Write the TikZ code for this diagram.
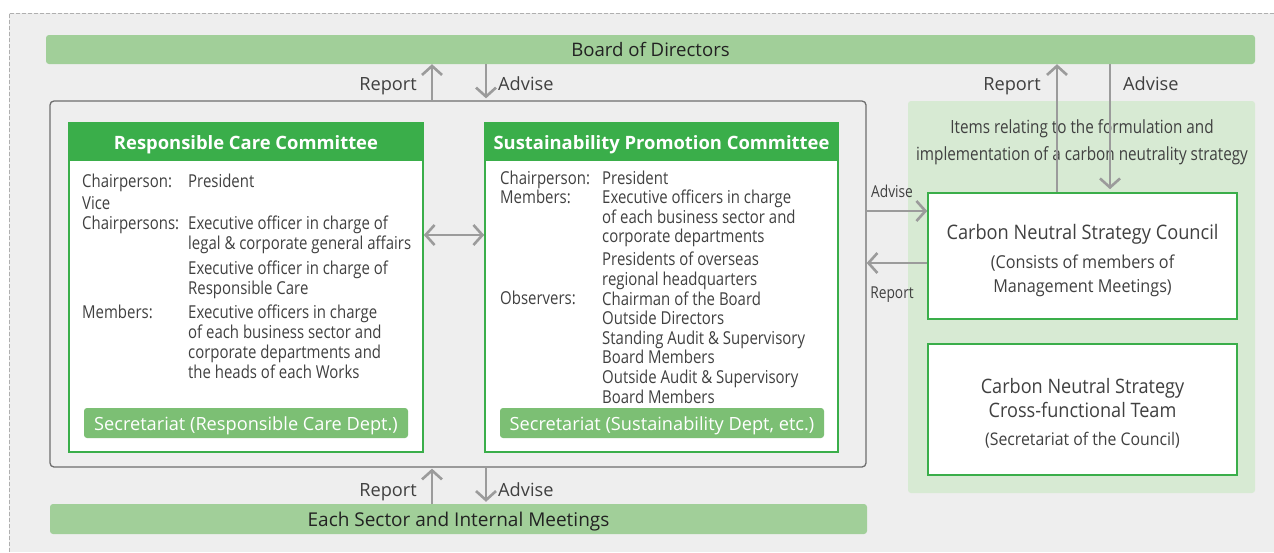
\documentclass[tikz,border=0pt]{standalone}
\usepackage{fontspec}
\setmainfont{Open Sans}[FakeStretch=0.84]
\newfontfamily\widef{Open Sans}
\newfontfamily\midf{Open Sans}[FakeStretch=0.91]
\usetikzlibrary{arrows.meta}
\definecolor{bgG}{HTML}{EEEEEE}
\definecolor{boardG}{HTML}{A1CF99}
\definecolor{hdrG}{HTML}{3AAE4A}
\definecolor{secG}{HTML}{7CBF74}
\definecolor{panelG}{HTML}{D7EAD3}
\definecolor{arrG}{HTML}{9B9B9B}
\definecolor{txtC}{HTML}{404040}
\definecolor{darkC}{HTML}{222222}
\definecolor{boxC}{HTML}{6E6E6E}
\tikzset{
  cen/.style={text height=16pt, text depth=2pt},
  bar/.style={fill=boardG, rounded corners=3pt, inner sep=0, text=darkC, cen},
  gbox/.style={draw=hdrG, line width=1.6pt, fill=white, inner sep=0},
  hdr/.style={fill=hdrG, inner sep=0, text=white, cen, font=\widef\bfseries\fontsize{18.4}{22}\selectfont},
  sec/.style={fill=secG, rounded corners=3pt, inner sep=0, text=white, cen, font=\widef\fontsize{18.2}{22}\selectfont},
  body/.style={inner sep=0, anchor=base west, align=left, text=txtC, font=\fontsize{17.8}{20}\selectfont},
  bodyr/.style={body, font=\fontsize{17.8}{19.6}\selectfont},
  lbl/.style={inner sep=0, text=txtC, font=\widef\fontsize{18.2}{22}\selectfont},
  slbl/.style={inner sep=0, text=txtC, font=\fontsize{16.4}{18}\selectfont},
  ctr/.style={inner sep=0, align=center, text=txtC},
  arr/.style={draw=arrG, line width=2.6pt, -{Straight Barb[length=9pt,width=20pt]}},
  arrtwo/.style={draw=arrG, line width=2.6pt, {Straight Barb[length=9pt,width=20pt]}-{Straight Barb[length=9pt,width=20pt]}},
}
\begin{document}
\begin{tikzpicture}[x=1pt,y=-1pt]
\useasboundingbox (0,0) rectangle (1274,552);
% background
\fill[bgG] (9,13) rectangle (1274,552);
\draw[arrG!80, line width=0.8pt, dash pattern=on 4pt off 2pt] (1274,13) -- (9,13) -- (9,552);

% top bar and bottom bar
\node[bar, minimum width=1209pt, minimum height=29pt, font=\widef\fontsize{18.6}{22}\selectfont] (board) at (650.5,49.5) {Board of Directors};
\node[bar, minimum width=817pt, minimum height=30pt, font=\widef\fontsize{19}{22}\selectfont] (sector) at (458.5,519) {Each Sector and Internal Meetings};

% big grey box
\node[draw=boxC, line width=1.3pt, rounded corners=4pt, minimum width=816pt, minimum height=366pt, inner sep=0] (bigbox) at (458,284) {};

% right panel
\node[fill=panelG, rounded corners=3pt, minimum width=347pt, minimum height=392pt, inner sep=0] (panel) at (1081.5,297) {};

% committees
\node[gbox, minimum width=354pt, minimum height=329pt] (rc) at (246,287.5) {};
\node[hdr, minimum width=354pt, minimum height=38pt] (rchead) at (246,142) {Responsible Care Committee};
\node[gbox, minimum width=353pt, minimum height=329pt] (sp) at (661.5,287.5) {};
\node[hdr, minimum width=353pt, minimum height=38pt] (sphead) at (661.5,142) {Sustainability Promotion Committee};

% RC text (anchor = baseline of last line)
\node[body] (rcl1) at (82,187) {Chairperson:};
\node[body] (rcl2) at (82,229.5) {Vice\\Chairpersons:};
\node[body] (rcl3) at (82,318) {Members:};
\node[body] (rcc1) at (188,187) {President};
\node[body] (rcc2) at (188,249.5) {Executive officer in charge of\\legal \& corporate general affairs};
\node[body] (rcc3) at (188,294) {Executive officer in charge of\\Responsible Care};
\node[body] (rcc4) at (188,378) {Executive officers in charge\\of each business sector and\\corporate departments and\\the heads of each Works};

% SP text (anchor = baseline of last line)
\node[bodyr] (spl1) at (500,203.6) {Chairperson:\\Members:};
\node[bodyr] (spl2) at (500,304) {Observers:};
\node[bodyr] (spc1) at (602,242.8) {President\\Executive officers in charge\\of each business sector and\\corporate departments};
\node[bodyr] (spc2) at (602,403) {Presidents of overseas\\regional headquarters\\Chairman of the Board\\Outside Directors\\Standing Audit \& Supervisory\\Board Members\\Outside Audit \& Supervisory\\Board Members};

% secretariats
\node[sec, minimum width=324pt, minimum height=30pt] (rcsec) at (246,423) {Secretariat (Responsible Care Dept.)};
\node[sec, minimum width=324pt, minimum height=30pt] (spsec) at (662,423) {Secretariat (Sustainability Dept, etc.)};

% right side
\node[ctr, font=\fontsize{18.2}{27}\selectfont, anchor=base] (items) at (1082,160) {Items relating to the formulation and\\implementation of a carbon neutrality strategy};
\node[gbox, minimum width=309pt, minimum height=126pt] (council) at (1082.5,256) {};
\node[ctr, font=\midf\fontsize{20}{22}\selectfont, anchor=base] (counciltitle) at (1082.5,239) {Carbon Neutral Strategy Council};
\node[ctr, font=\midf\fontsize{17.8}{24}\selectfont, anchor=base] (councilsub) at (1082.5,292) {(Consists of members of\\Management Meetings)};
\node[gbox, minimum width=309pt, minimum height=131pt] (cft) at (1082.5,409.5) {};
\node[ctr, font=\midf\fontsize{19.9}{24}\selectfont, anchor=base] (cfttitle) at (1082.5,417) {Carbon Neutral Strategy\\Cross-functional Team};
\node[ctr, font=\midf\fontsize{17.4}{18}\selectfont, anchor=base] (cftsub) at (1082.5,445) {(Secretariat of the Council)};

% arrow reference coordinates
\coordinate (xrep) at (432,0);
\coordinate (xadv) at (486,0);
\coordinate (xrep2) at (1057,0);
\coordinate (xadv2) at (1110,0);
\coordinate (ymid) at (0,235);
\coordinate (yadv) at (0,211);
\coordinate (yrep) at (0,263);

% arrows top-left
\draw[arr] (xrep |- bigbox.north) -- (xrep |- board.south);
\draw[arr, shorten >=2pt] (xadv |- board.south) -- (xadv |- bigbox.north);
% arrows bottom
\draw[arr, shorten >=1pt] (xrep |- sector.north) -- (xrep |- bigbox.south);
\draw[arr, shorten >=2pt] (xadv |- bigbox.south) -- (xadv |- sector.north);
% double arrow
\draw[arrtwo] (rc.east |- ymid) -- (sp.west |- ymid);
% right arrows
\draw[arr] (xrep2 |- council.north) -- (xrep2 |- board.south);
\draw[arr, shorten >=3pt] (xadv2 |- board.south) -- (xadv2 |- council.north);
\draw[arr] (bigbox.east |- yadv) -- (council.west |- yadv);
\draw[arr] (council.west |- yrep) -- (bigbox.east |- yrep);

% arrow labels
\node[lbl, anchor=base east] (lrep1) at (417,90) {Report};
\node[lbl, anchor=base west] (ladv1) at (498,90) {Advise};
\node[lbl, anchor=base east] (lrep2) at (417,496) {Report};
\node[lbl, anchor=base west] (ladv2) at (498,496) {Advise};
\node[lbl, anchor=base east] (lrep3) at (1041,90) {Report};
\node[lbl, anchor=base west] (ladv3) at (1123,90) {Advise};
\node[slbl, anchor=base] (ladv4) at (892,197) {Advise};
\node[slbl, anchor=base] (lrep4) at (892,298) {Report};
\end{tikzpicture}
\end{document}
